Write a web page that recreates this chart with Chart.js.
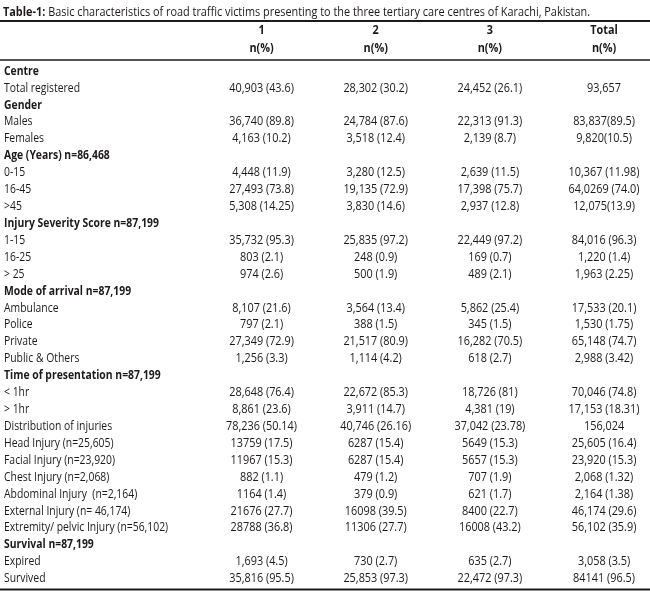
<!DOCTYPE html>
<html>
<head>
<meta charset="utf-8">
<script src="https://cdn.jsdelivr.net/npm/chart.js@4.4.1/dist/chart.umd.min.js"></script>
<style>
  html, body { margin: 0; padding: 0; background: #ffffff; }
  #wrap { width: 650px; height: 602px; }
</style>
</head>
<body>
<div id="wrap"><canvas id="c" width="650" height="602"></canvas></div>
<script>
// ---- data ----
const titleBold = 'Table-1:';
const titleText = ' Basic characteristics of road traffic victims presenting to the three tertiary care centres of Karachi, Pakistan.';

const columnHeads = [['1', 'n(%)'], ['2', 'n(%)'], ['3', 'n(%)'], ['Total', 'n(%)']];

const rowLabels = [
  'Centre', 'Total registered',
  'Gender', 'Males', 'Females',
  'Age (Years) n=86,468', '0-15', '16-45', '>45',
  'Injury Severity Score n=87,199', '1-15', '16-25', '> 25',
  'Mode of arrival n=87,199', 'Ambulance', 'Police', 'Private', 'Public & Others',
  'Time of presentation n=87,199', '< 1hr', '> 1hr', 'Distribution of injuries',
  'Head Injury (n=25,605)', 'Facial Injury (n=23,920)', 'Chest Injury (n=2,068)',
  'Abdominal Injury  (n=2,164)', 'External Injury (n= 46,174)', 'Extremity/ pelvic Injury (n=56,102)',
  'Survival n=87,199', 'Expired', 'Survived'
];

const headerRows = [0, 2, 5, 9, 13, 18, 28];

const centre1 = [null, '40,903 (43.6)', null, '36,740 (89.8)', '4,163 (10.2)', null,
  '4,448 (11.9)', '27,493 (73.8)', '5,308 (14.25)', null, '35,732 (95.3)', '803 (2.1)', '974 (2.6)', null,
  '8,107 (21.6)', '797 (2.1)', '27,349 (72.9)', '1,256 (3.3)', null, '28,648 (76.4)', '8,861 (23.6)',
  '78,236 (50.14)', '13759 (17.5)', '11967 (15.3)', '882 (1.1)', '1164 (1.4)', '21676 (27.7)', '28788 (36.8)',
  null, '1,693 (4.5)', '35,816 (95.5)'];

const centre2 = [null, '28,302 (30.2)', null, '24,784 (87.6)', '3,518 (12.4)', null,
  '3,280 (12.5)', '19,135 (72.9)', '3,830 (14.6)', null, '25,835 (97.2)', '248 (0.9)', '500 (1.9)', null,
  '3,564 (13.4)', '388 (1.5)', '21,517 (80.9)', '1,114 (4.2)', null, '22,672 (85.3)', '3,911 (14.7)',
  '40,746 (26.16)', '6287 (15.4)', '6287 (15.4)', '479 (1.2)', '379 (0.9)', '16098 (39.5)', '11306 (27.7)',
  null, '730 (2.7)', '25,853 (97.3)'];

const centre3 = [null, '24,452 (26.1)', null, '22,313 (91.3)', '2,139 (8.7)', null,
  '2,639 (11.5)', '17,398 (75.7)', '2,937 (12.8)', null, '22,449 (97.2)', '169 (0.7)', '489 (2.1)', null,
  '5,862 (25.4)', '345 (1.5)', '16,282 (70.5)', '618 (2.7)', null, '18,726 (81)', '4,381 (19)',
  '37,042 (23.78)', '5649 (15.3)', '5657 (15.3)', '707 (1.9)', '621 (1.7)', '8400 (22.7)', '16008 (43.2)',
  null, '635 (2.7)', '22,472 (97.3)'];

const totals = [null, '93,657', null, '83,837(89.5)', '9,820(10.5)', null,
  '10,367 (11.98)', '64,0269 (74.0)', '12,075(13.9)', null, '84,016 (96.3)', '1,220 (1.4)', '1,963 (2.25)', null,
  '17,533 (20.1)', '1,530 (1.75)', '65,148 (74.7)', '2,988 (3.42)', null, '70,046 (74.8)', '17,153 (18.31)',
  '156,024', '25,605 (16.4)', '23,920 (15.3)', '2,068 (1.32)', '2,164 (1.38)', '46,174 (29.6)', '56,102 (35.9)',
  null, '3,058 (3.5)', '84141 (96.5)'];

const columns = [centre1, centre2, centre3, totals];

// ---- styling ----
const FAMILY = '"Open Sans", "Noto Sans", sans-serif';
const INK = '#1d1a1b';
const SIZE = 13;
const TITLE_WIDTH = 587;   // rendered width of the caption line in the reference
const LABEL_SQUEEZE = 0.955;

function buildDataset(col, ci) {
  const pts = [];
  col.forEach((txt, ri) => { if (txt !== null) pts.push({ x: ci + 1, y: rowLabels[ri], text: txt }); });
  return { label: columnHeads[ci][0], data: pts, pointRadius: 0, pointHoverRadius: 0, showLine: false };
}

function fontStr(bold) { return (bold ? 'bold ' : '') + SIZE + 'px ' + FAMILY; }

// draw text horizontally condensed by kx (the reference uses a condensed face)
function cText(ctx, txt, x, y, align, kx) {
  ctx.save();
  ctx.translate(x, y);
  ctx.scale(kx, 1);
  ctx.textAlign = align;
  ctx.fillText(txt, 0, 0);
  ctx.restore();
}

const tablePlugin = {
  id: 'tablePlugin',
  afterDraw(chart) {
    const ctx = chart.ctx;
    const area = chart.chartArea;
    const xs = chart.scales.x;
    const ys = chart.scales.y;
    ctx.save();
    ctx.fillStyle = INK;
    ctx.strokeStyle = INK;
    ctx.textBaseline = 'middle';

    // condensing factor from the caption width
    ctx.font = fontStr(true);
    const bw = ctx.measureText(titleBold).width;
    ctx.font = fontStr(false);
    const rw = ctx.measureText(titleText).width;
    const kx = TITLE_WIDTH / (bw + rw);

    // caption
    const tx = 3, ty = xs.top - 11;
    ctx.font = fontStr(true);
    cText(ctx, titleBold, tx, ty, 'left', kx);
    ctx.font = fontStr(false);
    cText(ctx, titleText, tx + bw * kx, ty, 'left', kx);

    // rules
    ctx.lineWidth = 2;
    ctx.beginPath(); ctx.moveTo(0, xs.top - 2); ctx.lineTo(chart.width, xs.top - 2); ctx.stroke();
    ctx.lineWidth = 1.6;
    ctx.beginPath(); ctx.moveTo(0, area.top - 2.5); ctx.lineTo(chart.width, area.top - 2.5); ctx.stroke();
    ctx.lineWidth = 2.2;
    ctx.beginPath(); ctx.moveTo(0, area.bottom + 2.5); ctx.lineTo(chart.width, area.bottom + 2.5); ctx.stroke();

    // column heads
    ctx.font = fontStr(true);
    columnHeads.forEach((h, i) => {
      const px = xs.getPixelForValue(i + 1);
      cText(ctx, h[0], px, xs.top + 7, 'center', kx);
      cText(ctx, h[1], px, xs.top + 25, 'center', kx);
    });

    // row labels
    rowLabels.forEach((lab, ri) => {
      const bold = headerRows.includes(ri);
      ctx.font = fontStr(bold);
      cText(ctx, lab, 4, ys.getPixelForValue(ri), 'left', kx * LABEL_SQUEEZE);
    });

    // cells
    ctx.font = fontStr(false);
    chart.data.datasets.forEach((ds, di) => {
      const meta = chart.getDatasetMeta(di);
      meta.data.forEach((el, i) => {
        cText(ctx, ds.data[i].text, el.x, el.y, 'center', kx);
      });
    });
    ctx.restore();
  }
};

new Chart(document.getElementById('c'), {
  type: 'scatter',
  data: { datasets: columns.map(buildDataset) },
  options: {
    responsive: false,
    animation: false,
    devicePixelRatio: 1,
    layout: { padding: { top: 23, left: 4, right: 6, bottom: 15 } },
    plugins: { legend: { display: false }, tooltip: { enabled: false }, title: { display: false } },
    scales: {
      x: {
        type: 'linear',
        position: 'top',
        min: 0.75,
        max: 4.35,
        afterBuildTicks: s => { s.ticks = columnHeads.map((h, i) => ({ value: i + 1 })); },
        afterFit: s => { s.height = 39.5; },
        grid: { display: false },
        border: { display: false },
        ticks: { display: false }
      },
      y: {
        type: 'category',
        labels: rowLabels,
        offset: true,
        afterFit: s => { s.width = 229; },
        grid: { display: false },
        border: { display: false },
        ticks: { display: false, autoSkip: false }
      }
    }
  },
  plugins: [tablePlugin]
});
</script>
</body>
</html>
